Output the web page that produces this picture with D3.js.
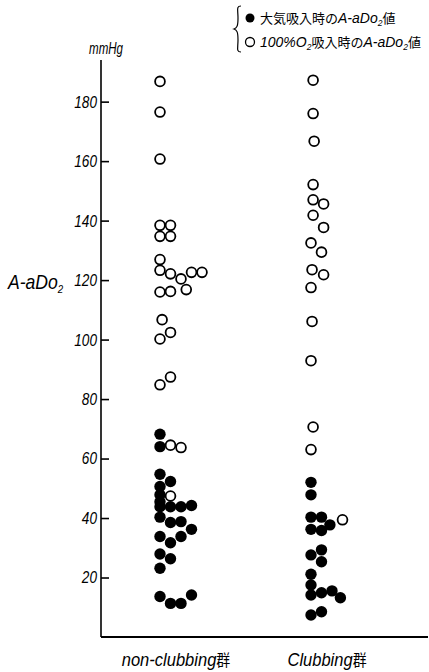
<!DOCTYPE html>
<html>
<head>
<meta charset="utf-8">
<script src="https://cdn.jsdelivr.net/npm/d3@7/dist/d3.min.js"></script>
<style>
  body { margin: 0; background: #fff; }
  svg { display: block; }
  text { font-family: "Liberation Sans", "Noto Sans CJK JP", sans-serif; fill: #000; }
</style>
</head>
<body>
<div id="chart"></div>
<script>
'use strict';

// groups on the x axis
var groups = ['non-clubbing群', 'Clubbing群'];
var yTicks = [20, 40, 60, 80, 100, 120, 140, 160, 180];

// [value mmHg, column slot] - air breathing (filled)
var airNonClubbing = [
  [68.2, 0], [64.0, 0], [54.7, 0], [52.3, 1], [50.6, 0], [47.8, 0], [45.5, 0],
  [43.8, 0], [43.8, 1], [43.8, 2], [44.2, 3], [40.3, 0], [38.5, 1], [38.8, 2],
  [36.2, 3], [33.8, 0], [33.8, 2], [31.7, 1], [27.9, 0], [26.3, 1], [23.1, 0],
  [13.6, 0], [11.3, 1], [11.3, 2], [14.1, 3]
];
var airClubbing = [
  [52.0, 0], [47.8, 0], [40.3, 0], [40.3, 1], [37.7, 1.8], [36.2, 0], [35.8, 1],
  [29.3, 1], [27.6, 0], [25.3, 1], [21.1, 0], [17.5, 0], [14.1, 0], [14.9, 1],
  [15.5, 2], [13.2, 2.8], [7.4, 0], [8.5, 1]
];

// [value mmHg, column slot] - 100% O2 breathing (open)
var o2NonClubbing = [
  [186.8, 0], [176.5, 0], [160.7, 0], [138.4, 0], [138.4, 1], [134.7, 0], [134.7, 1],
  [126.9, 0], [123.3, 0], [122.1, 1], [120.4, 2], [122.6, 3], [122.6, 4],
  [116.0, 0], [116.2, 1], [116.8, 2.5], [106.7, 0.2], [102.4, 1], [100.2, 0],
  [87.4, 1], [84.8, 0], [64.5, 1], [63.7, 2], [47.4, 1]
];
var o2Clubbing = [
  [187.2, 0.2], [176.0, 0.2], [166.7, 0.3], [152.1, 0.2], [147.0, 0.2], [145.6, 1.2],
  [141.8, 0.2], [137.7, 1.2], [132.5, 0], [129.4, 1], [123.5, 0.1], [121.8, 1.2],
  [117.5, 0], [106.1, 0.1], [92.9, 0], [70.6, 0.2], [63.0, 0], [39.4, 3]
];

var W = 429, H = 672;
var axisX = 101, axisY = 637;
var slotW = 10.5;
var cjkFont = '"Noto Sans CJK JP", sans-serif';

var svg = d3.select('#chart').append('svg')
  .attr('width', W)
  .attr('height', H);

var y = d3.scaleLinear().domain([0, 194]).range([axisY, 60]);
var x = d3.scalePoint().domain(groups).range([160, 311]);

// squeeze a text horizontally (the print uses a narrow italic face)
function narrow(sel, k) {
  sel.each(function(){
    var len = this.getComputedTextLength();
    d3.select(this)
      .attr('textLength', len * k)
      .attr('lengthAdjust', 'spacingAndGlyphs');
  });
}

/* ---------- Axes ---------- */

var yAxis = d3.axisLeft(y)
  .tickValues(yTicks)
  .tickSize(-8)
  .tickPadding(4)
  .tickFormat(d3.format('d'));

var gy = svg.append('g')
  .attr('transform', 'translate(' + axisX + ',0)')
  .call(yAxis);
gy.select('.domain').remove();
gy.selectAll('.tick line').attr('stroke', '#000').attr('stroke-width', 1.6);
gy.selectAll('.tick text')
  .attr('font-size', 17)
  .attr('font-style', 'italic')
  .attr('font-family', null)
  .call(narrow, 0.8);

// axis lines
svg.append('line')
  .attr('x1', axisX).attr('x2', axisX)
  .attr('y1', y(194)).attr('y2', axisY)
  .attr('stroke', '#000').attr('stroke-width', 1.6);
svg.append('line')
  .attr('x1', axisX).attr('x2', 428)
  .attr('y1', axisY).attr('y2', axisY)
  .attr('stroke', '#000').attr('stroke-width', 1.8);

// unit + axis title
svg.append('text')
  .attr('x', 106).attr('y', 54)
  .attr('text-anchor', 'middle')
  .attr('font-size', 16)
  .attr('font-style', 'italic')
  .text('mmHg')
  .call(narrow, 0.72);

var title = svg.append('text')
  .attr('transform', 'translate(8,289) scale(0.88,1)')
  .attr('font-size', 20)
  .attr('font-style', 'italic');
title.append('tspan').text('A-aDo');
title.append('tspan').attr('dy', 4).attr('font-size', 11).text('2');

// group labels
groups.forEach(function(g){
  var m = g.match(/^(.*)(群)$/);
  var t = svg.append('text')
    .attr('transform', 'translate(' + (x(g) + 16) + ',666) scale(0.87,1)')
    .attr('text-anchor', 'middle')
    .attr('font-size', 19);
  t.append('tspan').attr('font-style', 'italic').text(m[1]);
  t.append('tspan').attr('font-family', cjkFont).attr('font-size', 16).text(m[2]);
});

/* ---------- Points ---------- */

function drawPoints(list, group, filled) {
  svg.append('g').selectAll('circle')
    .data(list)
    .enter().append('circle')
    .attr('cx', function(d){ return x(group) + d[1]*slotW; })
    .attr('cy', function(d){ return y(d[0]); })
    .attr('r', filled ? 5.7 : 4.9)
    .attr('fill', filled ? '#000' : '#fff')
    .attr('stroke', '#000')
    .attr('stroke-width', filled ? 0 : 1.8);
}

drawPoints(o2NonClubbing, groups[0], false);
drawPoints(o2Clubbing, groups[1], false);
drawPoints(airNonClubbing, groups[0], true);
drawPoints(airClubbing, groups[1], true);

/* ---------- Legend ---------- */

var lg = svg.append('g').attr('transform', 'translate(235,0)');
lg.append('path')
  .attr('d', 'M6,6 C1,6 3,10 3,18 C3,26 2,28 -1,29 C2,30 3,32 3,40 C3,48 1,52 6,52')
  .attr('fill', 'none')
  .attr('stroke', '#000')
  .attr('stroke-width', 1.2);

function legendRow(yy, filled, parts) {
  lg.append('circle')
    .attr('cx', 15).attr('cy', yy)
    .attr('r', 4.5)
    .attr('fill', filled ? '#000' : '#fff')
    .attr('stroke', '#000')
    .attr('stroke-width', filled ? 0 : 1.3);
  var t = lg.append('text')
    .attr('x', 25).attr('y', yy + 5)
    .attr('font-size', 14);
  parts.forEach(function(p){
    var s = t.append('tspan').text(p.t);
    if (p.i) s.attr('font-style', 'italic');
    if (p.cjk) s.attr('font-family', cjkFont).attr('font-size', 13);
    if (p.sub) s.attr('dy', 3).attr('font-size', 8.5);
    if (p.up) s.attr('dy', -3);
  });
}

legendRow(18, true, [
  {t: '大気吸入時の', cjk: true},
  {t: 'A-aDo', i: true},
  {t: '2', i: true, sub: true},
  {t: '値', cjk: true, up: true}
]);
legendRow(42, false, [
  {t: '100%O', i: true},
  {t: '2', i: true, sub: true},
  {t: '吸入時の', cjk: true, up: true},
  {t: 'A-aDo', i: true},
  {t: '2', i: true, sub: true},
  {t: '値', cjk: true, up: true}
]);
</script>
</body>
</html>
